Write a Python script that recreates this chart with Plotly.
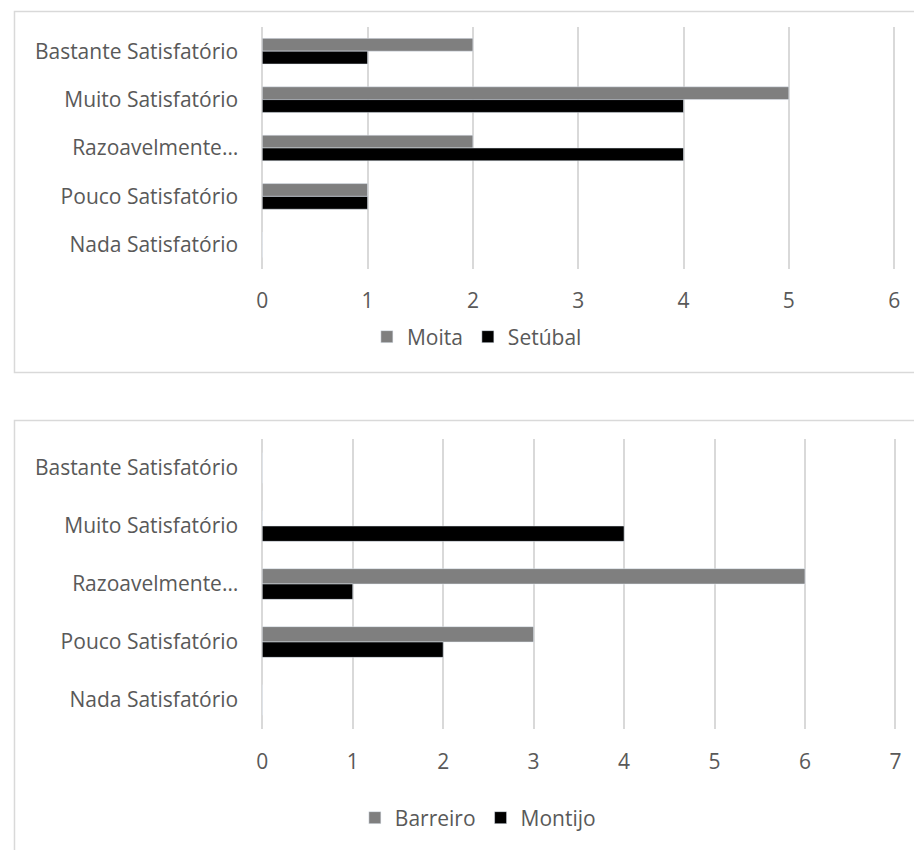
import plotly.graph_objects as go

categories = ["Bastante Satisfatório", "Muito Satisfatório", "Razoavelmente…",
              "Pouco Satisfatório", "Nada Satisfatório"]

top_series = ["Moita", "Setúbal"]
moita = [2, 5, 2, 1, 0]
setubal = [1, 4, 4, 1, 0]

bottom_series = ["Barreiro", "Montijo"]
barreiro = [0, 0, 6, 3, 0]
montijo = [0, 4, 1, 2, 0]

top_range = [0, 6.02]
bottom_range = [0, 7.02]

OFF = 8  # default page body margin
W, H = 922 - OFF, 850 - OFF
GRAY = "#7f7f7f"
BLACK = "#000000"
TXT = "#595959"
GRID = "#d9d9d9"
FONT = "Open Sans"
FS = 21


def px_x(px):
    return (px - OFF) / W


def px_y(px):
    return 1 - (px - OFF) / H


fig = go.Figure()
fig.add_trace(go.Bar(y=categories, x=moita, name=top_series[0], orientation="h",
                     marker_color=GRAY, xaxis="x", yaxis="y", legend="legend"))
fig.add_trace(go.Bar(y=categories, x=setubal, name=top_series[1], orientation="h",
                     marker_color=BLACK, xaxis="x", yaxis="y", legend="legend"))
fig.add_trace(go.Bar(y=categories, x=barreiro, name=bottom_series[0], orientation="h",
                     marker_color=GRAY, xaxis="x2", yaxis="y2", legend="legend2"))
fig.add_trace(go.Bar(y=categories, x=montijo, name=bottom_series[1], orientation="h",
                     marker_color=BLACK, xaxis="x2", yaxis="y2", legend="legend2"))

tickfont = dict(size=FS, color=TXT, family=FONT)
xcommon = dict(showgrid=True, gridcolor=GRID, gridwidth=1.5,
               zeroline=True, zerolinecolor=GRID, zerolinewidth=1.5,
               showline=False, ticks="", tickfont=tickfont, dtick=1)
ycommon = dict(type="category", autorange="reversed", showgrid=False, zeroline=False,
               showline=False, ticks="", ticklabelstandoff=23, tickfont=tickfont)
legcommon = dict(orientation="h", xanchor="center", yanchor="middle",
                 font=tickfont, itemwidth=30, bgcolor="rgba(0,0,0,0)")

fig.update_layout(
    width=W, height=H,
    margin=dict(l=0, r=0, t=0, b=0),
    paper_bgcolor="white", plot_bgcolor="white",
    barmode="group", bargap=0.47, bargroupgap=0,
    font=dict(family=FONT, color=TXT, size=FS),
    xaxis=dict(domain=[px_x(259), px_x(900)], range=top_range, anchor="y",
               ticklabelstandoff=17, **xcommon),
    yaxis=dict(domain=[px_y(269), px_y(27)], anchor="x", **ycommon),
    xaxis2=dict(domain=[px_x(259), px_x(901)], range=bottom_range, anchor="y2",
                ticklabelstandoff=18, **xcommon),
    yaxis2=dict(domain=[px_y(729), px_y(439)], anchor="x2", **ycommon),
    legend=dict(x=px_x(476), y=px_y(337), **legcommon),
    legend2=dict(x=px_x(477), y=px_y(818), **legcommon),
    shapes=[
        dict(type="rect", xref="paper", yref="paper",
             x0=px_x(8.5), x1=px_x(940), y0=px_y(372.5), y1=px_y(11.5),
             line=dict(color=GRID, width=1.5), fillcolor="rgba(0,0,0,0)", layer="below"),
        dict(type="rect", xref="paper", yref="paper",
             x0=px_x(8.5), x1=px_x(940), y0=px_y(880), y1=px_y(420.5),
             line=dict(color=GRID, width=1.5), fillcolor="rgba(0,0,0,0)", layer="below"),
    ],
)

fig.write_html("out.html")
